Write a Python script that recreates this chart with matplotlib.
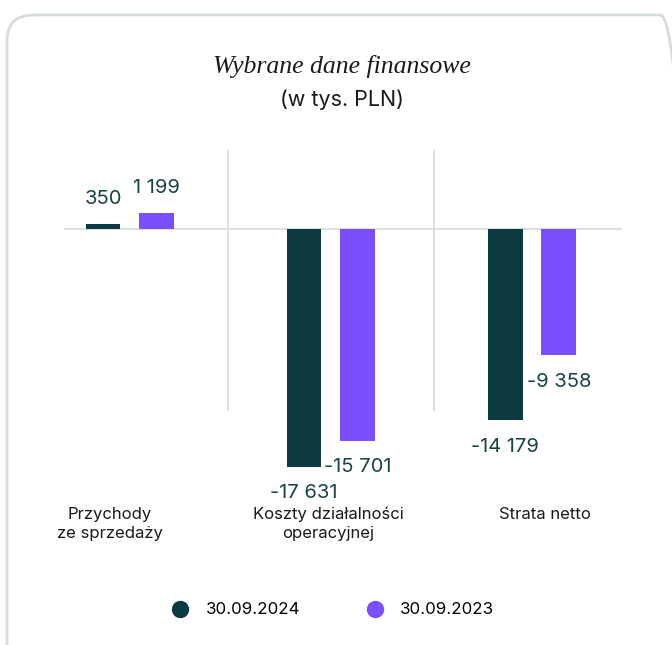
import matplotlib
matplotlib.use("Agg")
import matplotlib.pyplot as plt
import numpy as np
from matplotlib.patches import FancyBboxPatch
from matplotlib.lines import Line2D

# data
categories = ["Przychody\nze sprzedaży", "Koszty działalności\noperacyjnej", "Strata netto"]
series_names = ["30.09.2024", "30.09.2023"]
values_2024 = [350, -17631, -14179]
values_2023 = [1199, -15701, -9358]
labels_2024 = ["350", "-17 631", "-14 179"]
labels_2023 = ["1 199", "-15 701", "-9 358"]

DARK = "#0d3a40"
PURPLE = "#7b4fff"
LABEL = "#1b4247"
GRID = "#d6dddc"

W, H = 672, 645
fig = plt.figure(figsize=(W / 100, H / 100), dpi=100)


def fx(px):
    return px / W


def fy(py):
    return 1 - py / H


# rounded frame
frame = FancyBboxPatch((fx(7), fy(670)), fx(680), 655 / H,
                       boxstyle="round,pad=0,rounding_size=0.04",
                       transform=fig.transFigure, fill=False,
                       edgecolor="#d3dedb", linewidth=2, clip_on=False)
fig.patches.append(frame)

fig.text(fx(342), fy(66), "Wybrane dane finansowe", ha="center", va="center",
         family="Liberation Serif", style="italic", fontsize=18.5, color="#1a1a1a")
fig.text(fx(342), fy(100), "(w tys. PLN)", ha="center", va="center",
         family="Inter", fontsize=15.5, color="#1a1a1a")

top, bottom = 150, 500
ax = fig.add_axes([fx(64), fy(bottom), fx(622) - fx(64), (bottom - top) / H])
upp = 17631 / 238.0  # units per pixel
ax.set_ylim(-(bottom - 229) * upp, (229 - top) * upp)
ax.set_xlim(-0.328, 2.448)
ax.axis("off")

x = np.arange(len(categories))
off = 0.134
bw = 0.174
ax.axhline(0, color=GRID, lw=1.2, zorder=1)
for sx in [0.49, 1.515]:
    ax.axvline(sx, ymin=(bottom - 410) / (bottom - top), ymax=1, color=GRID, lw=1.2, zorder=1)

ax.bar(x - off, values_2024, bw, color=DARK, zorder=2)
ax.bar(x + off, values_2023, bw, color=PURPLE, zorder=2)

for xs, vals, labs in [(x - off, values_2024, labels_2024), (x + off, values_2023, labels_2023)]:
    for xi, v, lab in zip(xs, vals, labs):
        dy = 18 if v > 0 else -19
        ax.annotate(lab, (xi, v), xytext=(0, dy), textcoords="offset points",
                    ha="center", va="center", fontsize=14.5, color=LABEL, family="Inter")

cat_x = [110, 328, 545]
for cx, cat in zip(cat_x, categories):
    fig.text(fx(cx), fy(507), cat, ha="center", va="top", fontsize=12,
             color="#1a1a1a", family="Inter", linespacing=1.3)

handles = [Line2D([], [], marker="o", ls="", markersize=11.5, color=DARK),
           Line2D([], [], marker="o", ls="", markersize=11.5, color=PURPLE)]
fig.legend(handles, series_names, loc="center", bbox_to_anchor=(fx(333), fy(610)),
           ncol=2, frameon=False, handlelength=1.0, handletextpad=1.0, columnspacing=3.9,
           prop={"family": "Inter", "size": 12.2})

fig.savefig("out.png", dpi=100)
